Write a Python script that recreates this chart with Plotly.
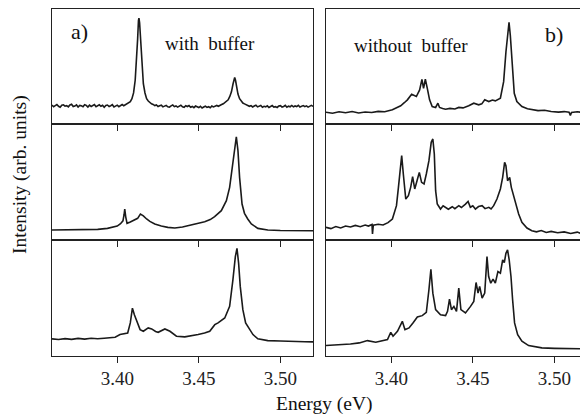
import plotly.graph_objects as go

# ---------------- data ----------------
# panel a) top: with buffer
a1_E = [3.360, 3.361, 3.362, 3.363, 3.364, 3.365, 3.366, 3.367, 3.368, 3.369,
        3.370, 3.371, 3.372, 3.373, 3.374, 3.375, 3.376, 3.377, 3.378, 3.379,
        3.380, 3.381, 3.382, 3.383, 3.384, 3.385, 3.386, 3.387, 3.388, 3.389,
        3.390, 3.391, 3.392, 3.393, 3.394, 3.395, 3.396, 3.397, 3.398, 3.399,
        3.400, 3.401, 3.402, 3.403, 3.404, 3.405, 3.406, 3.407,
        3.408, 3.409, 3.410, 3.411, 3.412, 3.4125, 3.413, 3.4133, 3.4137, 3.414,
        3.4145, 3.415, 3.416, 3.417, 3.418, 3.419, 3.420,
        3.421, 3.422, 3.423, 3.424, 3.425, 3.426, 3.427, 3.428, 3.429, 3.430,
        3.431, 3.432, 3.433, 3.434, 3.435, 3.436, 3.437, 3.438, 3.439, 3.440,
        3.441, 3.442, 3.443, 3.444, 3.445, 3.446, 3.447, 3.448, 3.449, 3.450,
        3.451, 3.452, 3.453, 3.454, 3.455, 3.456, 3.457, 3.458, 3.459, 3.460,
        3.461, 3.462, 3.463, 3.464, 3.465,
        3.466, 3.467, 3.468, 3.469, 3.470, 3.471, 3.4715, 3.472, 3.4725, 3.473,
        3.474, 3.475, 3.476, 3.477, 3.478,
        3.479, 3.480, 3.481, 3.482, 3.483, 3.484, 3.485, 3.486, 3.487, 3.488,
        3.489, 3.490, 3.491, 3.492, 3.493, 3.494, 3.495, 3.496, 3.497, 3.498,
        3.499, 3.500, 3.501, 3.502, 3.503, 3.504, 3.505, 3.506, 3.507, 3.508,
        3.509, 3.510, 3.511, 3.512, 3.513, 3.514, 3.515, 3.516, 3.517, 3.518,
        3.519, 3.520]
a1_I = [16.4, 15.0, 16.0, 16.9, 15.4, 14.6, 16.3, 16.7, 15.5, 15.9,
        14.9, 16.5, 17.1, 15.2, 15.6, 16.6, 14.8, 16.1, 15.8, 15.1,
        16.8, 16.2, 14.7, 16.4, 15.3, 16.0, 17.0, 15.0, 15.7, 16.7,
        15.4, 16.3, 14.5, 16.1, 16.5, 15.2, 15.9, 16.8, 14.9, 15.6,
        16.4, 15.1, 16.2, 16.9, 15.9, 16.8, 17.4, 18.4,
        19.5, 22.0, 27.0, 38.0, 58.0, 74.0, 90.0, 92.0, 88.0, 80.0,
        64.0, 50.0, 35.0, 27.0, 22.0, 20.0, 18.6,
        17.6, 17.0, 16.0, 16.6, 15.2, 15.9, 16.4, 14.9, 15.5, 16.2,
        15.0, 14.6, 15.8, 16.5, 15.1, 15.7, 14.7, 15.4, 16.3, 15.0,
        14.5, 15.9, 15.2, 16.0, 14.6, 15.3, 14.2, 15.6, 14.9, 14.3,
        15.4, 13.9, 14.8, 15.5, 14.4, 15.0, 14.1, 15.7, 14.9, 15.6,
        16.1, 15.4, 16.5, 16.9, 17.6,
        18.5, 19.6, 21.0, 24.0, 28.0, 35.0, 39.0, 40.5, 38.0, 33.0,
        26.0, 22.0, 19.5, 18.2, 17.5,
        16.9, 16.2, 15.4, 16.0, 14.8, 15.6, 16.3, 14.9, 15.2, 16.1,
        14.6, 15.4, 14.9, 15.8, 14.3, 15.5, 16.0, 14.7, 15.1, 14.4,
        15.6, 15.9, 14.8, 15.3, 16.2, 14.6, 15.5, 15.0, 16.1, 14.9,
        15.7, 15.2, 16.3, 14.8, 15.4, 16.0, 15.1, 15.8, 14.7, 15.6,
        16.2, 15.3]

# panel a) middle
a2_E = [3.360, 3.370, 3.380, 3.388, 3.394, 3.397, 3.400, 3.402, 3.4035, 3.4042,
        3.4046, 3.4052, 3.406, 3.408, 3.410, 3.4125, 3.4142, 3.416, 3.418, 3.420,
        3.423, 3.427, 3.431, 3.4353, 3.440, 3.4455, 3.450, 3.4536, 3.457, 3.4597,
        3.4638, 3.4669, 3.4689, 3.4709, 3.4722, 3.4730, 3.4740, 3.4750, 3.4765, 3.478,
        3.480, 3.4822, 3.4862, 3.4923, 3.500, 3.510, 3.520]
a2_I = [8.6, 8.6, 8.8, 9.2, 10.0, 10.8, 12.0, 14.0, 16.5, 22.0,
        26.7, 20.0, 14.4, 15.6, 16.7, 18.7, 22.4, 20.8, 18.1, 16.0,
        13.8, 12.0, 10.9, 10.3, 11.2, 12.9, 14.3, 15.8, 17.6, 20.1,
        25.3, 33.9, 45.4, 68.4, 82.8, 89.0, 77.0, 54.0, 31.0, 23.0,
        18.1, 13.8, 10.0, 8.6, 8.2, 8.0, 8.0]

# panel a) bottom
a3_E = [3.360, 3.364, 3.368, 3.372, 3.376, 3.380, 3.384, 3.388, 3.392, 3.396,
        3.3987, 3.4017, 3.4038, 3.4064, 3.408, 3.4093, 3.4105, 3.4121, 3.414, 3.416,
        3.419, 3.4211, 3.4235, 3.4251, 3.4275, 3.4292, 3.4323, 3.4345, 3.4363, 3.4414,
        3.445, 3.4496, 3.4535, 3.4567, 3.4598, 3.4618, 3.4659, 3.4689, 3.4709, 3.4724,
        3.4734, 3.4744, 3.4754, 3.477, 3.4787, 3.4805, 3.4832, 3.4862, 3.4923, 3.500,
        3.505, 3.510, 3.515, 3.520]
a3_I = [14.4, 13.8, 14.6, 14.0, 14.8, 14.2, 14.9, 14.5, 15.0, 15.4,
        15.8, 18.1, 19.0, 19.5, 28.2, 41.0, 35.3, 29.6, 22.4, 21.0,
        23.9, 23.0, 20.8, 20.1, 21.8, 23.0, 21.0, 18.5, 16.7, 16.1,
        16.9, 18.1, 19.5, 21.0, 26.7, 28.2, 32.5, 42.5, 65.5, 85.6,
        92.8, 80.0, 59.8, 39.7, 28.2, 23.9, 18.1, 14.4, 12.9, 12.6,
        12.2, 12.3, 11.9, 11.8]

# panel b) top: without buffer
b1_E = [3.360, 3.364, 3.368, 3.372, 3.376, 3.380, 3.384, 3.388, 3.392, 3.396,
        3.4007, 3.4035, 3.4058, 3.408, 3.4099, 3.4125, 3.414, 3.4154, 3.4174, 3.4188,
        3.4198, 3.4209, 3.4221, 3.4235, 3.4251, 3.4272, 3.4286, 3.4296, 3.4315, 3.4333,
        3.436, 3.439, 3.4414, 3.444, 3.4475, 3.4506, 3.4536, 3.4555, 3.4573, 3.4598,
        3.462, 3.4638, 3.4669, 3.4689, 3.4703, 3.4715, 3.4722, 3.473, 3.4742, 3.4754,
        3.477, 3.4801, 3.4835, 3.4862, 3.490, 3.494, 3.498, 3.5025, 3.506, 3.509,
        3.5098, 3.5105, 3.514, 3.517, 3.520]
b1_I = [10.2, 9.4, 10.6, 9.8, 10.9, 9.6, 10.4, 10.0, 11.0, 10.6,
        12.4, 14.0, 15.8, 18.5, 21.0, 25.9, 24.7, 23.9, 29.6, 38.8,
        31.0, 39.0, 31.0, 21.0, 15.2, 14.4, 18.1, 14.4, 13.5, 12.9,
        13.6, 13.0, 14.4, 14.0, 15.8, 18.1, 16.7, 17.5, 21.0, 19.5,
        20.8, 20.1, 22.4, 36.8, 62.6, 82.8, 88.5, 77.0, 48.3, 26.7,
        19.5, 15.2, 13.2, 12.4, 11.6, 11.9, 10.8, 10.3, 10.8, 10.2,
        7.5, 10.0, 10.6, 10.2, 10.9]

# panel b) middle
b2_E = [3.360, 3.363, 3.366, 3.369, 3.372, 3.375, 3.378, 3.381, 3.384, 3.386,
        3.3882, 3.3885, 3.3890, 3.392, 3.395, 3.398, 3.4007, 3.4017, 3.4032, 3.4044,
        3.4056, 3.4064, 3.4074, 3.4089, 3.4105, 3.4119, 3.4131, 3.4144, 3.4158, 3.4172,
        3.4186, 3.4201, 3.4215, 3.4231, 3.4245, 3.4255, 3.4264, 3.4272, 3.4282, 3.4302,
        3.4318, 3.4333, 3.435, 3.4374, 3.439, 3.4414, 3.443, 3.4455, 3.4471, 3.4485,
        3.450, 3.4516, 3.4535, 3.4557, 3.4575, 3.4598, 3.4612, 3.4628, 3.4648, 3.4669,
        3.4683, 3.4695, 3.4703, 3.4713, 3.4726, 3.4736, 3.475, 3.4765, 3.4781, 3.4801,
        3.4832, 3.4862, 3.489, 3.492, 3.495, 3.498, 3.502, 3.506, 3.510, 3.514,
        3.517, 3.520]
b2_I = [10.9, 9.8, 11.6, 10.4, 12.0, 11.2, 12.6, 11.5, 12.9, 12.0,
        13.4, 5.2, 12.8, 13.6, 12.9, 15.0, 18.1, 22.4, 29.6, 45.4,
        65.5, 72.7, 56.9, 35.3, 38.2, 45.4, 54.6, 44.0, 51.1, 58.3,
        49.7, 48.3, 56.9, 68.4, 84.2, 87.1, 74.1, 42.5, 31.0, 26.7,
        29.5, 28.2, 26.5, 28.7, 27.0, 29.6, 28.0, 31.0, 33.3, 28.2,
        29.5, 26.7, 28.8, 29.6, 27.0, 28.2, 26.8, 29.6, 35.3, 44.0,
        54.0, 67.0, 64.0, 51.1, 54.0, 45.4, 38.2, 29.6, 22.4, 15.2,
        10.3, 8.0, 7.0, 8.2, 6.5, 7.4, 6.2, 7.0, 5.6, 6.8,
        5.4, 6.0]

# panel b) bottom
b3_E = [3.360, 3.365, 3.370, 3.375, 3.3804, 3.3854, 3.3905, 3.394, 3.3977, 3.3997,
        3.4011, 3.4038, 3.4058, 3.4068, 3.4084, 3.4109, 3.4133, 3.416, 3.419, 3.4215,
        3.4231, 3.4243, 3.4255, 3.4272, 3.4302, 3.4333, 3.4345, 3.4357, 3.4369, 3.4384,
        3.440, 3.4414, 3.4427, 3.4455, 3.4486, 3.4506, 3.452, 3.4532, 3.4542, 3.4557,
        3.4573, 3.4587, 3.4597, 3.461, 3.4624, 3.4638, 3.4654, 3.4669, 3.4683, 3.4693,
        3.4703, 3.4713, 3.4723, 3.4734, 3.4744, 3.4756, 3.4775, 3.4801, 3.4842, 3.4923,
        3.500, 3.510, 3.520]
b3_I = [8.6, 8.9, 9.4, 10.0, 10.9, 12.9, 11.5, 12.6, 13.8, 20.1,
        16.7, 21.0, 26.7, 29.6, 22.4, 23.9, 28.2, 33.3, 34.5, 37.4,
        56.9, 74.7, 54.0, 39.7, 35.3, 34.5, 38.2, 48.9, 39.7, 42.5,
        38.2, 58.3, 39.7, 36.8, 42.5, 46.8, 63.2, 54.0, 59.8, 49.7,
        54.0, 85.6, 68.4, 62.6, 66.1, 62.6, 72.7, 71.3, 82.8, 80.5,
        88.5, 91.4, 82.8, 68.4, 48.3, 28.2, 18.1, 12.4, 8.6, 6.6,
        6.2, 5.9, 5.7]

tick_vals = [3.40, 3.45, 3.50]
tick_text = ["3.40", "3.45", "3.50"]
x_range = [3.36, 3.52]

series = [(a1_E, a1_I), (a2_E, a2_I), (a3_E, a3_I),
          (b1_E, b1_I), (b2_E, b2_I), (b3_E, b3_I)]

# ---------------- layout ----------------
# the page body has an 8px margin; the figure is sized to fill the rest
OFF = 8
W, H = 588 - OFF, 418 - OFF
FONT = "'Liberation Serif', 'Times New Roman', 'DejaVu Serif', serif"


def px(xp):
    return (xp - OFF) / W


def py(yp):
    return 1 - (yp - OFF) / H


col_dom = [[px(52), px(313)], [px(326), px(587)]]
row_edges = [9, 124, 240, 355.5]
row_dom = [[py(row_edges[i + 1]), py(row_edges[i])] for i in range(3)]

fig = go.Figure()
layout = dict(width=W, height=H, autosize=False,
              margin=dict(l=0, r=0, t=0, b=0, pad=0),
              paper_bgcolor="white", plot_bgcolor="white",
              showlegend=False, font=dict(family=FONT, color="#111"))

for k, (ex, iy) in enumerate(series):
    assert len(ex) == len(iy), k
    col = k // 3
    row = k % 3
    n = k + 1
    xa = "x" if n == 1 else f"x{n}"
    ya = "y" if n == 1 else f"y{n}"
    fig.add_trace(go.Scatter(x=ex, y=iy, mode="lines", xaxis=xa, yaxis=ya,
                             line=dict(color="#1a1a1a", width=1.6),
                             hoverinfo="skip"))
    xkey = "xaxis" if n == 1 else f"xaxis{n}"
    ykey = "yaxis" if n == 1 else f"yaxis{n}"
    layout[xkey] = dict(domain=col_dom[col], anchor=ya, range=x_range,
                        showline=True, mirror=True, linecolor="#222",
                        linewidth=1.3, showgrid=False, zeroline=False,
                        ticks="outside", ticklen=6, tickwidth=1.2,
                        tickcolor="#222", tickvals=tick_vals,
                        ticktext=tick_text, showticklabels=(row == 2),
                        tickfont=dict(family=FONT, size=19, color="#222"))
    layout[ykey] = dict(domain=row_dom[row], anchor=xa, range=[0, 100],
                        showline=True, mirror=True, linecolor="#222",
                        linewidth=1.3, showgrid=False, zeroline=False,
                        ticks="", showticklabels=False)

fig.update_layout(**layout)

ann = [
    dict(text="a)", x=79, y=31, size=22),
    dict(text="with\u00a0 buffer", x=210, y=44, size=19),
    dict(text="without\u00a0 buffer", x=411, y=46, size=19),
    dict(text="b)", x=554, y=34, size=22),
    dict(text="Energy (eV)", x=324, y=404, size=19.5),
]
for a in ann:
    fig.add_annotation(text=a["text"], x=px(a["x"]), y=py(a["y"]),
                       xref="paper", yref="paper", showarrow=False,
                       xanchor="center", yanchor="middle",
                       font=dict(family=FONT, size=a["size"], color="#111"))
fig.add_annotation(text="Intensity (arb. units)", x=px(20), y=py(175),
                   xref="paper", yref="paper", showarrow=False, textangle=-90,
                   xanchor="center", yanchor="middle",
                   font=dict(family=FONT, size=19.5, color="#111"))

fig.write_html("out.html")
